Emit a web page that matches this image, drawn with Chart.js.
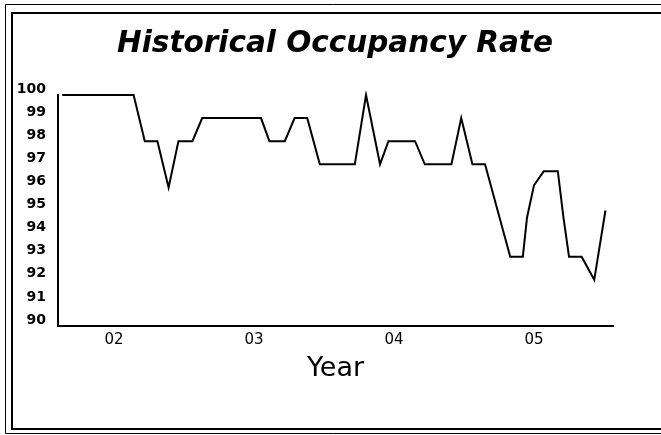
<!DOCTYPE html>
<html>
<head>
<meta charset="utf-8">
<title>Historical Occupancy Rate</title>
<script src="https://cdn.jsdelivr.net/npm/chart.js@4.4.1/dist/chart.umd.min.js"></script>
<style>
    html, body { margin: 0; padding: 0; background: #fff; }
    #wrap { position: relative; width: 661px; height: 435px; }
</style>
</head>
<body>
<div id="wrap"><canvas id="occupancyChart"></canvas></div>
<script>
// données
const chartTitle = "Historical Occupancy Rate";
const axisTitle = "Year";
const yearTicks = [2002, 2003, 2004, 2005];
const yearLabels = ["02", "03", "04", "05"];
const rateTicks = [90, 91, 92, 93, 94, 95, 96, 97, 98, 99, 100];
const dates = [2001.63, 2002.14, 2002.22, 2002.31, 2002.39, 2002.46, 2002.56, 2002.63,
    2003.05, 2003.11, 2003.22, 2003.29, 2003.38, 2003.47, 2003.72, 2003.80, 2003.90, 2003.96,
    2004.15, 2004.22, 2004.41, 2004.48, 2004.56, 2004.65, 2004.83, 2004.92, 2004.95,
    2005.00, 2005.07, 2005.17, 2005.21, 2005.25, 2005.34, 2005.43, 2005.51];
const occupancy = [100, 100, 98, 98, 96, 98, 98, 99,
    99, 98, 98, 99, 99, 97, 97, 100, 97, 98,
    98, 97, 97, 99, 97, 97, 93, 93, 94.7,
    96.1, 96.7, 96.7, 94.7, 93, 93, 92, 95];

// 🔹 cadre double autour du graphique
const framePlugin = {
    id: "frame",
    beforeDraw(chart) {
        const ctx = chart.ctx;
        ctx.save();
        ctx.fillStyle = "#fff";
        ctx.fillRect(0, 0, chart.width, chart.height);
        ctx.strokeStyle = "#000";
        ctx.lineWidth = 1;
        ctx.beginPath();
        ctx.moveTo(chart.width, 4.5);
        ctx.lineTo(5.5, 4.5);
        ctx.lineTo(5.5, 433.5);
        ctx.lineTo(chart.width, 433.5);
        ctx.stroke();
        ctx.lineWidth = 2;
        ctx.beginPath();
        ctx.moveTo(chart.width, 13);
        ctx.lineTo(12, 13);
        ctx.lineTo(12, 429);
        ctx.lineTo(chart.width, 429);
        ctx.stroke();
        ctx.restore();
    }
};

document.addEventListener("DOMContentLoaded", function() {
    const ctx = document.getElementById("occupancyChart");

    new Chart(ctx, {
        type: "line",
        data: {
            datasets: [{
                label: "Occupancy",
                data: dates.map((d, i) => ({ x: d, y: occupancy[i] })),
                borderColor: "#000",
                borderWidth: 2,
                pointRadius: 0,
                tension: 0,
                fill: false,
                clip: 4
            }]
        },
        options: {
            responsive: true,
            maintainAspectRatio: false,
            animation: false,
            layout: { padding: { left: 9, right: 0, top: 0, bottom: 0 } },
            plugins: {
                legend: { display: false },
                tooltip: { enabled: false },
                title: {
                    display: true,
                    text: chartTitle,
                    color: "#000",
                    font: { family: "DejaVu Sans", size: 29.5, style: "italic", weight: "bold" },
                    padding: { top: 27, bottom: 32.6 }
                }
            },
            scales: {
                x: {
                    type: "linear",
                    min: 2001.6,
                    max: 2005.564,
                    afterBuildTicks: s => { s.ticks = yearTicks.map(v => ({ value: v })); },
                    afterFit: s => { s.height = 109; },
                    grid: { display: false, drawTicks: false },
                    border: { display: true, color: "#000", width: 2 },
                    ticks: {
                        color: "#000",
                        font: { family: "DejaVu Sans", size: 15 },
                        padding: 5,
                        maxRotation: 0,
                        autoSkip: false,
                        callback: (v, i) => yearLabels[i]
                    },
                    title: {
                        display: true,
                        text: axisTitle,
                        color: "#000",
                        font: { family: "DejaVu Sans", size: 27 },
                        padding: { top: 0, bottom: 50 }
                    }
                },
                y: {
                    min: 90,
                    max: 100,
                    afterBuildTicks: s => { s.ticks = rateTicks.map(v => ({ value: v })); },
                    afterFit: s => { s.width = 49; },
                    grid: { display: false, drawTicks: false },
                    border: { display: true, color: "#000", width: 2 },
                    ticks: {
                        color: "#000",
                        font: { family: "DejaVu Sans", size: 14, weight: "bold" },
                        padding: 12,
                        labelOffset: -6
                    }
                },
                yPad: {
                    position: "right",
                    display: true,
                    grid: { display: false, drawTicks: false },
                    border: { display: false },
                    ticks: { display: false },
                    afterFit: s => { s.width = 48; }
                }
            }
        },
        plugins: [framePlugin]
    });
});
</script>
</body>
</html>
